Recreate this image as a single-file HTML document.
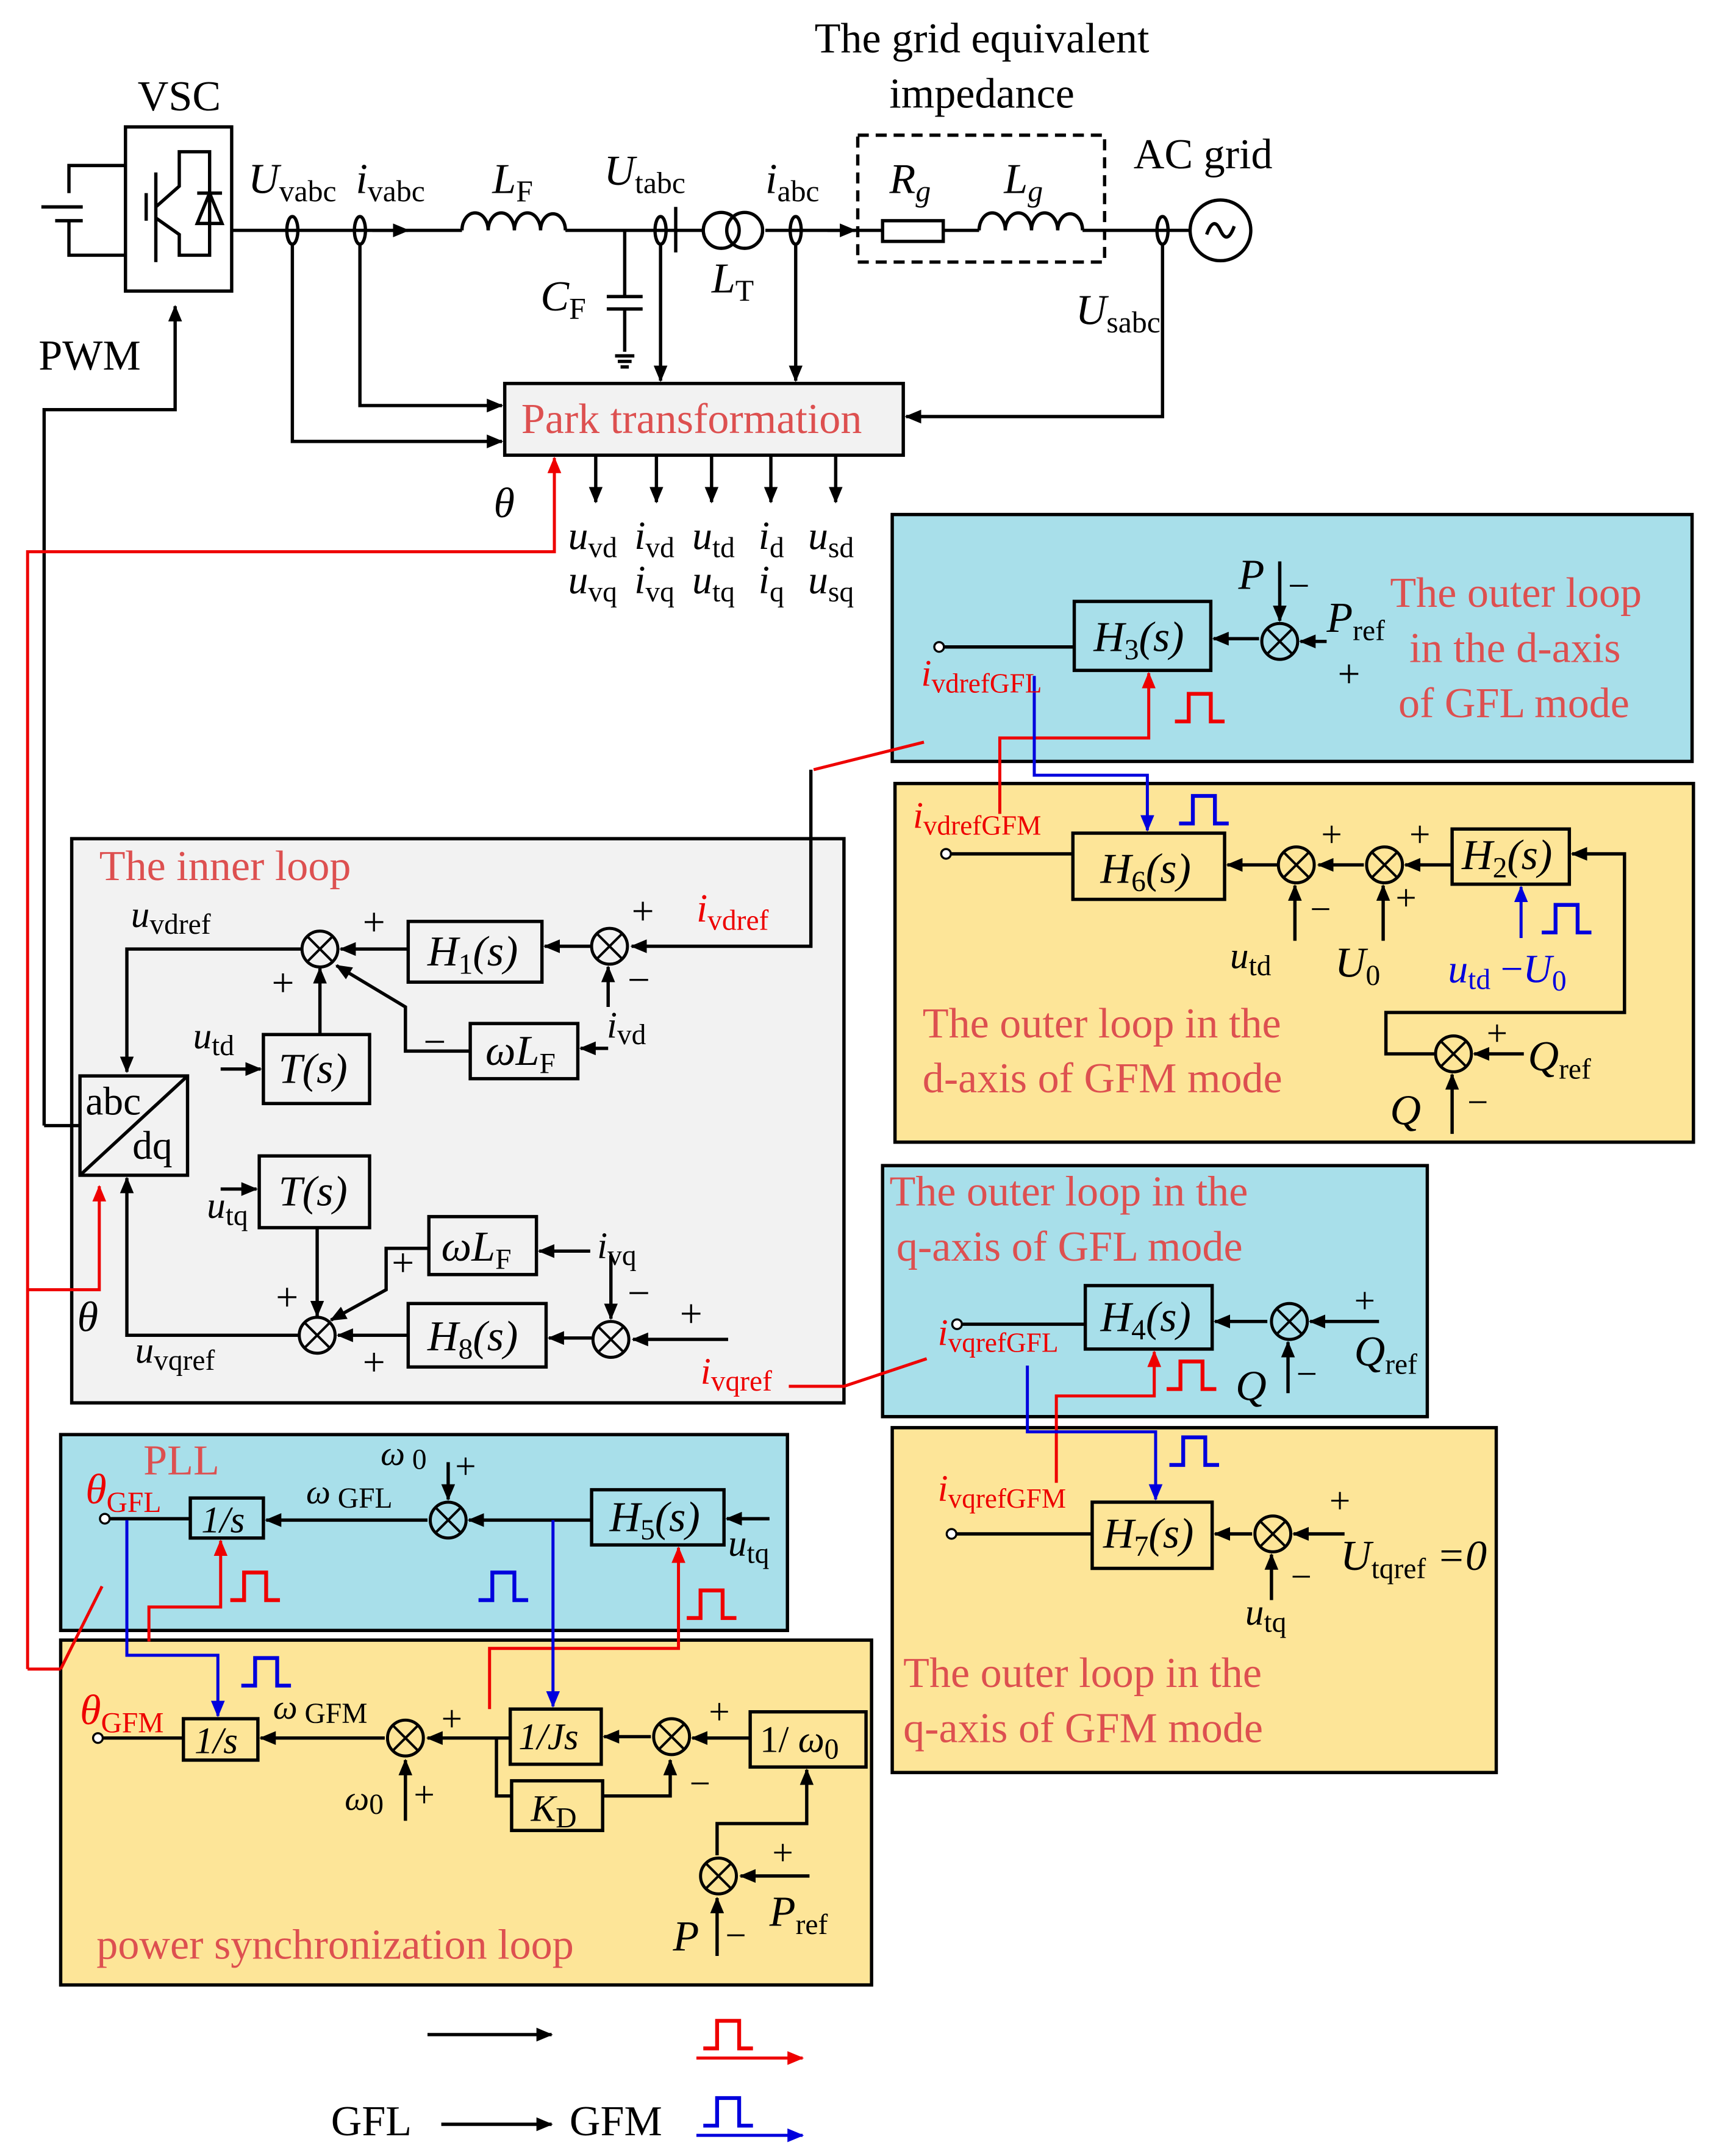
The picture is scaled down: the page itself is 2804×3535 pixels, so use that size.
<!DOCTYPE html>
<html><head><meta charset="utf-8"><style>
html,body{margin:0;padding:0;background:#fff}
svg{display:block}
text{font-family:"Liberation Serif",serif;}
.i{font-style:italic}
.r{fill:#dd5050}
</style></head><body>
<svg width="2804" height="3535" viewBox="0 0 1240 1563" preserveAspectRatio="none" xmlns="http://www.w3.org/2000/svg">
<defs>
<marker id="a" markerWidth="12" markerHeight="10" refX="11" refY="5" orient="auto" markerUnits="userSpaceOnUse"><path d="M0,0L12,5L0,10z" fill="#000"/></marker>
<marker id="ab" markerWidth="12" markerHeight="10" refX="11" refY="5" orient="auto" markerUnits="userSpaceOnUse"><path d="M0,0L12,5L0,10z" fill="#0000dd"/></marker>
<marker id="ar" markerWidth="12" markerHeight="10" refX="11" refY="5" orient="auto" markerUnits="userSpaceOnUse"><path d="M0,0L12,5L0,10z" fill="#e00"/></marker>
<g id="sj"><circle r="13" fill="none" stroke="#000" stroke-width="2.2"/><path d="M-9,-9L9,9M-9,9L9,-9" stroke="#000" stroke-width="1.8"/></g>
<path id="pr" d="M0,0h10v-20h16v20h10" fill="none" stroke="#e00" stroke-width="2.8"/>
<path id="pb" d="M0,0h10v-20h16v20h10" fill="none" stroke="#0000dd" stroke-width="2.8"/>
</defs>
<g stroke="#000" stroke-width="2.2">
<rect x="52" y="608" width="560" height="409" fill="#f2f2f2"/>
<rect x="647" y="373" width="580" height="179" fill="#a8dfea"/>
<rect x="649" y="568" width="579" height="260" fill="#fde598"/>
<rect x="640" y="845" width="395" height="182" fill="#a8dfea"/>
<rect x="647" y="1035" width="438" height="250" fill="#fde598"/>
<rect x="44" y="1040" width="527" height="142" fill="#a8dfea"/>
<rect x="44" y="1189" width="588" height="250" fill="#fde598"/>
<rect x="366" y="278" width="289" height="52" fill="#f2f2f2"/>
</g>
<g fill="none" stroke="#000" stroke-width="2.4">
<path d="M91,120H50V140M30,150H60M40,160H60M50,160V185H91"/>
<rect x="91" y="92" width="77" height="119"/>
<path d="M106,140V160M113,125V190M113,150L130,135V110H152V185H130V170L113,158"/>
<path d="M143,162L152,140L161,162ZM143,140H161"/>
<path d="M168,167H335M410,167H510M555,167H640M684,167H710M785,167H862"/>
<path d="M335,167a9,12 0 0 1 19,0a9,12 0 0 1 19,0a9,12 0 0 1 19,0a9,12 0 0 1 18,0"/>
<path d="M710,167a9,12 0 0 1 19,0a9,12 0 0 1 19,0a9,12 0 0 1 19,0a9,12 0 0 1 18,0"/>
<rect x="640" y="160" width="44" height="15"/>
<circle cx="523" cy="167" r="13"/><circle cx="540" cy="167" r="13"/>
<path d="M270,167H296" marker-end="url(#a)"/>
<path d="M600,167H620" marker-end="url(#a)"/>
<path d="M490,150V183"/>
<path d="M453,167V215M440,215H466M440,224H466M453,224V255M446,258H460M448,262H458M450,266H456"/>
<rect x="622" y="98" width="179" height="92" stroke-dasharray="8,5"/>
<circle cx="885" cy="167" r="22"/>
<path d="M875,170q5,-14 10,-3t10,-3"/>
<ellipse cx="212" cy="167" rx="4" ry="10"/><ellipse cx="261" cy="167" rx="4" ry="10"/>
<ellipse cx="479" cy="167" rx="4" ry="10"/><ellipse cx="577" cy="167" rx="4" ry="10"/>
<ellipse cx="843" cy="167" rx="4" ry="10"/>
<path d="M212,177V320H364" marker-end="url(#a)"/>
<path d="M261,177V294H364" marker-end="url(#a)"/>
<path d="M479,177V276" marker-end="url(#a)"/>
<path d="M577,177V276" marker-end="url(#a)"/>
<path d="M843,177V302H657" marker-end="url(#a)"/>
<rect x="366" y="278" width="289" height="52"/>
<path d="M432,330V364" marker-end="url(#a)"/>
<path d="M476,330V364" marker-end="url(#a)"/>
<path d="M516,330V364" marker-end="url(#a)"/>
<path d="M559,330V364" marker-end="url(#a)"/>
<path d="M606,330V364" marker-end="url(#a)"/>
<path d="M32,816V297H127V222" marker-end="url(#a)"/>
<path d="M32,816H58"/>
<rect x="52" y="608" width="560" height="409"/>
<rect x="58" y="780" width="78" height="72"/><path d="M58,852L136,780"/>
<rect x="296" y="668" width="97" height="44"/>
<rect x="341" y="742" width="78" height="40"/>
<rect x="191" y="750" width="77" height="50"/>
<rect x="188" y="838" width="80" height="52"/>
<rect x="311" y="882" width="78" height="42"/>
<rect x="296" y="945" width="100" height="46"/>
<path d="M588,558V686H458" marker-end="url(#a)"/>
<path d="M428,686H395" marker-end="url(#a)"/>
<path d="M296,688H247" marker-end="url(#a)"/>
<path d="M441,760H421" marker-end="url(#a)"/>
<path d="M441,730V701" marker-end="url(#a)"/>
<path d="M341,762H294V730L244,700" marker-end="url(#a)"/>
<path d="M232,750V702" marker-end="url(#a)"/>
<path d="M219,688H92V777" marker-end="url(#a)"/>
<path d="M160,775H189" marker-end="url(#a)"/>
<path d="M160,862H186" marker-end="url(#a)"/>
<path d="M230,890V954" marker-end="url(#a)"/>
<path d="M311,905H280V935L240,957" marker-end="url(#a)"/>
<path d="M428,907H391" marker-end="url(#a)"/>
<path d="M443,910V956" marker-end="url(#a)"/>
<path d="M528,971H459" marker-end="url(#a)"/>
<path d="M429,970H398" marker-end="url(#a)"/>
<path d="M296,968H245" marker-end="url(#a)"/>
<path d="M216,968H92V854" marker-end="url(#a)"/>
<rect x="647" y="373" width="580" height="179"/>
<rect x="779" y="436" width="99" height="50"/>
<path d="M685,469H779"/>
<path d="M962,465H943" marker-end="url(#a)"/>
<path d="M928,407V450" marker-end="url(#a)"/>
<path d="M913,463H880" marker-end="url(#a)"/>
<rect x="649" y="568" width="579" height="260"/>
<rect x="778" y="604" width="110" height="48"/>
<rect x="1053" y="601" width="85" height="40"/>
<path d="M690,619H778"/>
<path d="M926,627H890" marker-end="url(#a)"/>
<path d="M989,627H956" marker-end="url(#a)"/>
<path d="M1053,627H1019" marker-end="url(#a)"/>
<path d="M939,682V642" marker-end="url(#a)"/>
<path d="M1003,682V642" marker-end="url(#a)"/>
<path d="M1040,764H1005V734H1178V619H1140" marker-end="url(#a)"/>
<path d="M1105,764H1069" marker-end="url(#a)"/>
<path d="M1053,822V779" marker-end="url(#a)"/>
<rect x="640" y="845" width="395" height="182"/>
<rect x="787" y="932" width="92" height="46"/>
<path d="M698,960H787"/>
<path d="M1000,958H950" marker-end="url(#a)"/>
<path d="M919,958H881" marker-end="url(#a)"/>
<path d="M934,1010V973" marker-end="url(#a)"/>
<rect x="647" y="1035" width="438" height="250"/>
<rect x="792" y="1089" width="87" height="48"/>
<path d="M694,1112H792"/>
<path d="M975,1112H938" marker-end="url(#a)"/>
<path d="M908,1112H881" marker-end="url(#a)"/>
<path d="M922,1160V1127" marker-end="url(#a)"/>
<rect x="44" y="1040" width="527" height="142"/>
<rect x="138" y="1086" width="53" height="29"/>
<rect x="429" y="1080" width="96" height="40"/>
<path d="M80,1101H138"/>
<path d="M310,1102H193" marker-end="url(#a)"/>
<path d="M429,1102H340" marker-end="url(#a)"/>
<path d="M558,1101H527" marker-end="url(#a)"/>
<path d="M325,1060V1087" marker-end="url(#a)"/>
<rect x="44" y="1189" width="588" height="250"/>
<rect x="133" y="1246" width="54" height="30"/>
<rect x="370" y="1239" width="66" height="40"/>
<rect x="371" y="1291" width="66" height="36"/>
<rect x="544" y="1241" width="84" height="40"/>
<path d="M75,1260H133"/>
<path d="M279,1260H189" marker-end="url(#a)"/>
<path d="M370,1260H310" marker-end="url(#a)"/>
<path d="M360,1260V1302H371"/>
<path d="M472,1259H438" marker-end="url(#a)"/>
<path d="M544,1260H502" marker-end="url(#a)"/>
<path d="M437,1302H486V1276" marker-end="url(#a)"/>
<path d="M294,1320V1276" marker-end="url(#a)"/>
<path d="M520,1345V1322H585V1283" marker-end="url(#a)"/>
<path d="M587,1360H537" marker-end="url(#a)"/>
<path d="M520,1418V1376" marker-end="url(#a)"/>
<path d="M310,1475H400" marker-end="url(#a)"/>
<path d="M320,1540H400" marker-end="url(#a)"/>
</g>
<use href="#sj" x="232" y="688"/><use href="#sj" x="442" y="686"/>
<use href="#sj" x="230" y="968"/><use href="#sj" x="443" y="971"/>
<use href="#sj" x="928" y="465"/>
<use href="#sj" x="940" y="627"/><use href="#sj" x="1004" y="627"/><use href="#sj" x="1054" y="764"/>
<use href="#sj" x="935" y="958"/><use href="#sj" x="923" y="1112"/>
<use href="#sj" x="325" y="1102"/>
<use href="#sj" x="294" y="1260"/><use href="#sj" x="487" y="1259"/><use href="#sj" x="521" y="1360"/>
<g fill="#fff" stroke="#000" stroke-width="1.5">
<circle cx="681" cy="469" r="3.5"/><circle cx="686" cy="619" r="3.5"/><circle cx="694" cy="960" r="3.5"/>
<circle cx="690" cy="1112" r="3.5"/><circle cx="76" cy="1101" r="3.5"/><circle cx="71" cy="1260" r="3.5"/>
</g>
<g fill="none" stroke="#e00" stroke-width="2.2">
<path d="M20,1210V400H402V332" marker-end="url(#ar)"/>
<path d="M20,935H72V860" marker-end="url(#ar)"/>
<path d="M20,1210H44"/>
<path d="M44,1210L74,1150"/>
<path d="M590,558L670,538"/>
<path d="M572,1005H612L672,985"/>
<path d="M725,590V535H833V488" marker-end="url(#ar)"/>
<path d="M766,1075V1012H837V980" marker-end="url(#ar)"/>
<path d="M108,1190V1165H160V1117" marker-end="url(#ar)"/>
<path d="M355,1239V1195H492V1122" marker-end="url(#ar)"/>
<path d="M505,1492H582" marker-end="url(#ar)"/>
</g>
<use href="#pr" x="852" y="523"/><use href="#pr" x="846" y="1007"/>
<use href="#pr" x="167" y="1160"/><use href="#pr" x="498" y="1173"/>
<use href="#pr" x="510" y="1485"/>
<g fill="none" stroke="#0000dd" stroke-width="2.2">
<path d="M750,490V562H832V602" marker-end="url(#ab)"/>
<path d="M745,990V1038H838V1087" marker-end="url(#ab)"/>
<path d="M92,1102V1200H158V1244" marker-end="url(#ab)"/>
<path d="M401,1102V1237" marker-end="url(#ab)"/>
<path d="M1103,680V643" marker-end="url(#ab)"/>
<path d="M505,1548H582" marker-end="url(#ab)"/>
</g>
<use href="#pb" x="855" y="597"/><use href="#pb" x="1118" y="676"/>
<use href="#pb" x="848" y="1062"/><use href="#pb" x="347" y="1160"/>
<use href="#pb" x="175" y="1222"/><use href="#pb" x="510" y="1541"/>
<g font-size="31" fill="#000">
<text x="130" y="80" text-anchor="middle">VSC</text>
<text x="712" y="38" text-anchor="middle">The grid equivalent</text>
<text x="712" y="78" text-anchor="middle">impedance</text>
<text x="822" y="122">AC grid</text>
<text x="28" y="268">PWM</text>
<text x="180" y="140" class="i">U<tspan font-size="22" font-style="normal" dy="6">vabc</tspan></text>
<text x="258" y="140" class="i">i<tspan font-size="22" font-style="normal" dy="6">vabc</tspan></text>
<text x="357" y="140" class="i">L<tspan font-size="22" font-style="normal" dy="6">F</tspan></text>
<text x="438" y="134" class="i">U<tspan font-size="22" font-style="normal" dy="6">tabc</tspan></text>
<text x="555" y="140" class="i">i<tspan font-size="22" font-style="normal" dy="6">abc</tspan></text>
<text x="645" y="140" class="i">R<tspan font-size="22" dy="6">g</tspan></text>
<text x="728" y="140" class="i">L<tspan font-size="22" dy="6">g</tspan></text>
<text x="392" y="225" class="i">C<tspan font-size="22" font-style="normal" dy="6">F</tspan></text>
<text x="516" y="212" class="i">L<tspan font-size="22" font-style="normal" dy="6">T</tspan></text>
<text x="780" y="235" class="i">U<tspan font-size="22" font-style="normal" dy="6">sabc</tspan></text>
<text x="378" y="314" class="r" font-size="31">Park transformation</text>
<text x="358" y="375" class="i">θ</text>
<g font-size="29">
<text x="412" y="398" class="i">u<tspan font-size="21" font-style="normal" dy="6">vd</tspan></text>
<text x="460" y="398" class="i">i<tspan font-size="21" font-style="normal" dy="6">vd</tspan></text>
<text x="502" y="398" class="i">u<tspan font-size="21" font-style="normal" dy="6">td</tspan></text>
<text x="550" y="398" class="i">i<tspan font-size="21" font-style="normal" dy="6">d</tspan></text>
<text x="586" y="398" class="i">u<tspan font-size="21" font-style="normal" dy="6">sd</tspan></text>
<text x="412" y="430" class="i">u<tspan font-size="21" font-style="normal" dy="6">vq</tspan></text>
<text x="460" y="430" class="i">i<tspan font-size="21" font-style="normal" dy="6">vq</tspan></text>
<text x="502" y="430" class="i">u<tspan font-size="21" font-style="normal" dy="6">tq</tspan></text>
<text x="550" y="430" class="i">i<tspan font-size="21" font-style="normal" dy="6">q</tspan></text>
<text x="586" y="430" class="i">u<tspan font-size="21" font-style="normal" dy="6">sq</tspan></text>
</g>
<text x="72" y="638" class="r">The inner loop</text>
<text x="95" y="672" class="i" font-size="27">u<tspan font-size="21" font-style="normal" dy="5">vdref</tspan></text>
<text x="505" y="668" class="i" fill="#e00" font-size="29">i<tspan font-size="21" font-style="normal" dy="6">vdref</tspan></text>
<text x="310" y="700" class="i">H<tspan font-size="21" font-style="normal" dy="6">1</tspan><tspan dy="-6">(s)</tspan></text>
<text x="352" y="772" class="i">ωL<tspan font-size="21" font-style="normal" dy="6">F</tspan></text>
<text x="202" y="785" class="i">T(s)</text>
<text x="202" y="874" class="i">T(s)</text>
<text x="320" y="914" class="i">ωL<tspan font-size="21" font-style="normal" dy="6">F</tspan></text>
<text x="310" y="979" class="i">H<tspan font-size="21" font-style="normal" dy="6">8</tspan><tspan dy="-6">(s)</tspan></text>
<text x="62" y="808" font-size="29">abc</text>
<text x="96" y="840" font-size="29">dq</text>
<text x="140" y="760" class="i" font-size="27">u<tspan font-size="21" font-style="normal" dy="5">td</tspan></text>
<text x="150" y="883" class="i" font-size="27">u<tspan font-size="21" font-style="normal" dy="5">tq</tspan></text>
<text x="440" y="752" class="i" font-size="27">i<tspan font-size="21" font-style="normal" dy="5">vd</tspan></text>
<text x="433" y="912" class="i" font-size="27">i<tspan font-size="21" font-style="normal" dy="5">vq</tspan></text>
<text x="508" y="1003" class="i" fill="#e00" font-size="27">i<tspan font-size="21" font-style="normal" dy="5">vqref</tspan></text>
<text x="98" y="988" class="i" font-size="27">u<tspan font-size="21" font-style="normal" dy="5">vqref</tspan></text>
<text x="56" y="965" class="i">θ</text>
<g font-size="29">
<text x="263" y="678">+</text><text x="458" y="670">+</text><text x="455" y="720">−</text>
<text x="197" y="722">+</text><text x="307" y="765">−</text>
<text x="284" y="925">+</text><text x="200" y="950">+</text><text x="263" y="997">+</text>
<text x="455" y="947">−</text><text x="493" y="962">+</text>
</g>
<text x="1008" y="440" class="r">The outer loop</text>
<text x="1022" y="480" class="r">in the d-axis</text>
<text x="1014" y="520" class="r">of GFL mode</text>
<text x="793" y="472" class="i">H<tspan font-size="21" font-style="normal" dy="6">3</tspan><tspan dy="-6">(s)</tspan></text>
<text x="898" y="427" class="i">P</text><text x="934" y="434" font-size="28">−</text>
<text x="962" y="458" class="i">P<tspan font-size="21" font-style="normal" dy="6">ref</tspan></text>
<text x="970" y="498" font-size="29">+</text>
<text x="668" y="497" class="i" fill="#e00" font-size="27">i<tspan font-size="20" font-style="normal" dy="5">vdrefGFL</tspan></text>
<text x="662" y="600" class="i" fill="#e00" font-size="27">i<tspan font-size="20" font-style="normal" dy="5">vdrefGFM</tspan></text>
<text x="798" y="640" class="i">H<tspan font-size="21" font-style="normal" dy="6">6</tspan><tspan dy="-6">(s)</tspan></text>
<text x="1060" y="630" class="i">H<tspan font-size="21" font-style="normal" dy="6">2</tspan><tspan dy="-6">(s)</tspan></text>
<text x="892" y="702" class="i" font-size="27">u<tspan font-size="21" font-style="normal" dy="5">td</tspan></text>
<text x="968" y="708" class="i">U<tspan font-size="21" font-style="normal" dy="6">0</tspan></text>
<text x="1050" y="712" class="i" fill="#0000dd" font-size="29">u<tspan font-size="21" font-style="normal" dy="5">td</tspan><tspan dy="-5" font-style="normal"> −</tspan>U<tspan font-size="21" font-style="normal" dy="6">0</tspan></text>
<text x="669" y="752" class="r">The outer loop in the</text>
<text x="669" y="792" class="r">d-axis of GFM mode</text>
<text x="1108" y="776" class="i">Q<tspan font-size="21" font-style="normal" dy="6">ref</tspan></text>
<text x="1008" y="815" class="i">Q</text>
<g font-size="27"><text x="958" y="614">+</text><text x="1022" y="614">+</text><text x="950" y="668">−</text><text x="1012" y="660">+</text><text x="1078" y="758">+</text><text x="1064" y="808">−</text></g>
<text x="645" y="874" class="r">The outer loop in the</text>
<text x="650" y="914" class="r">q-axis of GFL mode</text>
<text x="798" y="965" class="i">H<tspan font-size="21" font-style="normal" dy="6">4</tspan><tspan dy="-6">(s)</tspan></text>
<text x="680" y="975" class="i" fill="#e00" font-size="27">i<tspan font-size="20" font-style="normal" dy="5">vqrefGFL</tspan></text>
<text x="982" y="952" font-size="27">+</text>
<text x="982" y="990" class="i">Q<tspan font-size="21" font-style="normal" dy="6">ref</tspan></text>
<text x="896" y="1015" class="i">Q</text><text x="940" y="1005" font-size="27">−</text>
<text x="680" y="1088" class="i" fill="#e00" font-size="27">i<tspan font-size="20" font-style="normal" dy="5">vqrefGFM</tspan></text>
<text x="800" y="1122" class="i">H<tspan font-size="21" font-style="normal" dy="6">7</tspan><tspan dy="-6">(s)</tspan></text>
<text x="964" y="1097" font-size="27">+</text>
<text x="972" y="1138" class="i">U<tspan font-size="21" font-style="normal" dy="6">tqref</tspan><tspan dy="-6" font-style="italic"> =0</tspan></text>
<text x="936" y="1152" font-size="27">−</text>
<text x="903" y="1178" class="i" font-size="27">u<tspan font-size="21" font-style="normal" dy="5">tq</tspan></text>
<text x="655" y="1223" class="r">The outer loop in the</text>
<text x="655" y="1263" class="r">q-axis of GFM mode</text>
<text x="104" y="1069" class="r">PLL</text>
<text x="62" y="1090" class="i" fill="#e00">θ<tspan font-size="21" font-style="normal" dy="6">GFL</tspan></text>
<text x="146" y="1111" class="i" font-size="27">1/s</text>
<text x="222" y="1090" class="i" font-size="25">ω<tspan font-size="21" font-style="normal" dy="3"> GFL</tspan></text>
<text x="276" y="1062" class="i" font-size="25">ω<tspan font-size="21" font-style="normal" dy="3"> 0</tspan></text>
<text x="330" y="1072" font-size="27">+</text>
<text x="442" y="1110" class="i">H<tspan font-size="21" font-style="normal" dy="6">5</tspan><tspan dy="-6">(s)</tspan></text>
<text x="528" y="1128" class="i" font-size="27">u<tspan font-size="21" font-style="normal" dy="5">tq</tspan></text>
<text x="58" y="1250" class="i" fill="#e00">θ<tspan font-size="21" font-style="normal" dy="6">GFM</tspan></text>
<text x="141" y="1271" class="i" font-size="27">1/s</text>
<text x="198" y="1246" class="i" font-size="25">ω<tspan font-size="21" font-style="normal" dy="3"> GFM</tspan></text>
<text x="320" y="1255" font-size="27">+</text>
<text x="250" y="1312" class="i" font-size="25">ω<tspan font-size="21" font-style="normal" dy="3">0</tspan></text>
<text x="300" y="1310" font-size="27">+</text>
<text x="376" y="1268" class="i" font-size="27">1/Js</text>
<text x="385" y="1320" class="i" font-size="27">K<tspan font-size="21" font-style="normal" dy="5">D</tspan></text>
<text x="514" y="1250" font-size="27">+</text><text x="500" y="1302" font-size="27">−</text>
<text x="551" y="1270" font-size="27">1/ <tspan class="i">ω</tspan><tspan font-size="21" dy="5">0</tspan></text>
<text x="560" y="1352" font-size="27">+</text>
<text x="558" y="1396" class="i">P<tspan font-size="21" font-style="normal" dy="6">ref</tspan></text>
<text x="488" y="1414" class="i">P</text><text x="526" y="1412" font-size="27">−</text>
<text x="70" y="1420" class="r">power synchronization loop</text>
<text x="240" y="1548">GFL</text>
<text x="413" y="1548">GFM</text>
</g>
</svg>
</body></html>
